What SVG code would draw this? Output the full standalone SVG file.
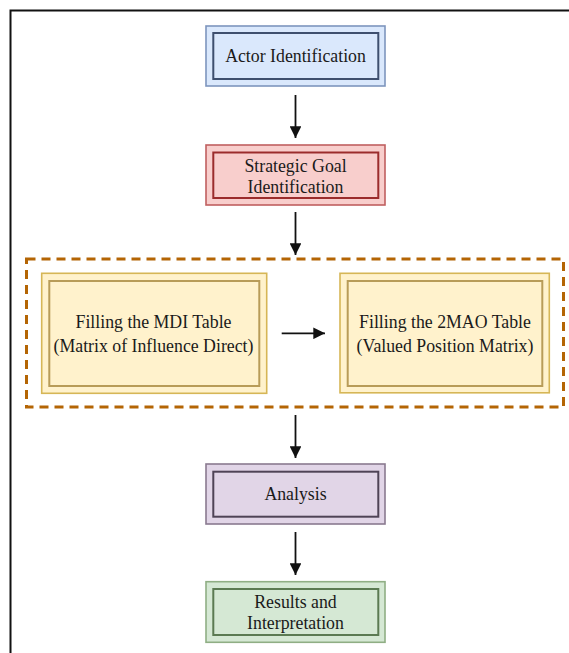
<svg xmlns="http://www.w3.org/2000/svg" width="569" height="653" viewBox="0 0 569 653">
<defs>
<style>
text{font-family:'Liberation Serif', 'Times New Roman', Times, serif;font-size:17.8px;fill:#1a1a1a;text-anchor:middle}
.conn{stroke:#111;stroke-width:1.8;fill:none}
.o{stroke-width:1.6}
.i{stroke-width:2;fill:none}
</style>
<marker id="ah" viewBox="0 0 10 10" refX="10" refY="5" markerWidth="6.5" markerHeight="6.5" markerUnits="strokeWidth" orient="auto">
<path d="M0,0 L10,5 L0,10 Z" fill="#111"/>
</marker>
</defs>
<rect width="569" height="653" fill="#fff"/>
<path d="M10.5,660 V10.5 H580" fill="none" stroke="#111" stroke-width="2"/>

<g id="group-tables">
<rect x="26.5" y="259" width="537" height="148" fill="none" stroke="#b46504" stroke-width="3" stroke-dasharray="9 6"/>
</g>

<g font-family="Liberation Serif, serif">
<g id="actor">
<rect class="o" x="206" y="26" width="179" height="60" fill="#dae8fc" stroke="#7d95bd"/>
<rect class="i" x="213.3" y="33" width="165" height="46" stroke="#3e4f6e"/>
<text x="295.5" y="62">Actor Identification</text>
</g>

<g id="strategic">
<rect class="o" x="206" y="145" width="179" height="60" fill="#f8cecc" stroke="#c06060"/>
<rect class="i" x="213.3" y="152.5" width="165" height="45.5" stroke="#9b2c2c"/>
<text x="295.5" y="172">Strategic Goal</text>
<text x="295.5" y="193">Identification</text>
</g>

<g id="mdi">
<rect class="o" x="41.7" y="273.3" width="225" height="120" fill="#fff2cc" stroke="#d6b656"/>
<rect class="i" x="49.3" y="281" width="210" height="105" stroke="#b89c58"/>
<text x="153.5" y="327.5">Filling the MDI Table</text>
<text x="153.5" y="351.5">(Matrix of Influence Direct)</text>
</g>

<g id="mao">
<rect class="o" x="340" y="273.3" width="209.3" height="119.5" fill="#fff2cc" stroke="#d6b656"/>
<rect class="i" x="347.7" y="281" width="194.6" height="105" stroke="#b89c58"/>
<text x="445" y="327.5">Filling the 2MAO Table</text>
<text x="445" y="351.5">(Valued Position Matrix)</text>
</g>

<g id="analysis">
<rect class="o" x="206" y="464" width="179" height="60" fill="#e1d5e7" stroke="#8a7a90"/>
<rect class="i" x="213.3" y="471.7" width="165" height="45" stroke="#4f4356"/>
<text x="295.5" y="500">Analysis</text>
</g>

<g id="results">
<rect class="o" x="206" y="581.7" width="179" height="60.6" fill="#d5e8d4" stroke="#8fae84"/>
<rect class="i" x="213.3" y="589" width="165" height="46" stroke="#5b7a52"/>
<text x="295.5" y="607.5">Results and</text>
<text x="295.5" y="628.5">Interpretation</text>
</g>
</g>

<g id="connectors">
<line class="conn" x1="295.5" y1="95" x2="295.5" y2="138" marker-end="url(#ah)"/>
<line class="conn" x1="295.5" y1="212" x2="295.5" y2="255" marker-end="url(#ah)"/>
<line class="conn" x1="281.7" y1="333.3" x2="325" y2="333.3" marker-end="url(#ah)"/>
<line class="conn" x1="295.5" y1="415" x2="295.5" y2="458" marker-end="url(#ah)"/>
<line class="conn" x1="295.5" y1="532" x2="295.5" y2="575" marker-end="url(#ah)"/>
</g>
</svg>
